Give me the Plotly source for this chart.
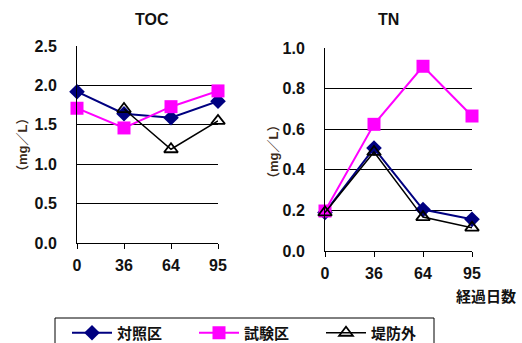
import plotly.graph_objects as go

days = ["0", "36", "64", "95"]
series_names = ["対照区", "試験区", "堤防外"]

toc_control = [1.92, 1.64, 1.59, 1.80]
toc_test = [1.71, 1.46, 1.73, 1.93]
toc_outside = [None, 1.70, 1.19, 1.55]

tn_control = [0.19, 0.507, 0.204, 0.156]
tn_test = [0.197, 0.624, 0.91, 0.665]
tn_outside = [0.19, 0.488, 0.167, 0.115]

toc_ticks = [0.0, 0.5, 1.0, 1.5, 2.0, 2.5]
tn_ticks = [0.0, 0.2, 0.4, 0.6, 0.8, 1.0]

W, H = 522, 343
FONT = "Liberation Sans, Arial, Noto Sans CJK JP, sans-serif"

styles = [
    dict(line=dict(color="#000080", width=2),
         marker=dict(symbol="diamond", size=12, color="#000080")),
    dict(line=dict(color="#FF00FF", width=2),
         marker=dict(symbol="square", size=13, color="#FF00FF")),
    dict(line=dict(color="#000000", width=1.5),
         marker=dict(symbol="triangle-up-open", size=12, color="#000000",
                     line=dict(width=1.8, color="#000000"))),
]

fig = go.Figure()
for i, (name, vals) in enumerate(zip(series_names, [toc_control, toc_test, toc_outside])):
    fig.add_trace(go.Scatter(x=days, y=vals, name=name, mode="lines+markers",
                             xaxis="x", yaxis="y", cliponaxis=False,
                             legendgroup=name, showlegend=True, **styles[i]))
for i, (name, vals) in enumerate(zip(series_names, [tn_control, tn_test, tn_outside])):
    fig.add_trace(go.Scatter(x=days, y=vals, name=name, mode="lines+markers",
                             xaxis="x2", yaxis="y2", cliponaxis=False,
                             legendgroup=name, showlegend=False, **styles[i]))

def px_x(p):
    return p / W

def px_y(p):
    return 1 - p / H

tickfont = dict(family=FONT, size=16, color="#111111", weight="bold")

xcommon = dict(type="category", range=[0, 3], showline=True, linecolor="black",
               linewidth=1, ticks="outside", ticklen=5, tickcolor="black",
               showgrid=False, tickfont=tickfont, ticklabelstandoff=3,
               zeroline=False, fixedrange=True, automargin=False)
ycommon = dict(showline=True, linecolor="black", linewidth=1, ticks="",
               showgrid=True, gridcolor="black", gridwidth=1, tickfont=tickfont,
               ticklabelstandoff=16, zeroline=False, fixedrange=True, automargin=False)

fig.update_layout(
    width=W, height=H,
    margin=dict(l=0, r=0, t=0, b=0, autoexpand=False),
    paper_bgcolor="white", plot_bgcolor="white",
    font=dict(family=FONT, color="#111111"),
    xaxis=dict(domain=[px_x(77), px_x(218)], anchor="y", **xcommon),
    yaxis=dict(domain=[px_y(243), px_y(46)], anchor="x", range=[0, 2.5],
               tickvals=toc_ticks, ticktext=[f"{v:.1f}" for v in toc_ticks], **ycommon),
    xaxis2=dict(domain=[px_x(325), px_x(472)], anchor="y2", **xcommon),
    yaxis2=dict(domain=[px_y(251), px_y(48)], anchor="x2", range=[0, 1.0],
                tickvals=tn_ticks, ticktext=[f"{v:.1f}" for v in tn_ticks], **ycommon),
    showlegend=True,
    hovermode=False,
    legend=dict(orientation="h", x=px_x(67), y=px_y(316.5), xanchor="left", yanchor="top",
                borderwidth=0, bgcolor="rgba(0,0,0,0)",
                font=dict(family=FONT, size=15, color="#111111", weight="bold"),
                entrywidth=72, entrywidthmode="pixels", itemwidth=40,
                tracegroupgap=0),
)

# legend frame (bottom runs off the picture, as in the reference)
fig.add_shape(type="rect", xref="paper", yref="paper",
              x0=px_x(55), x1=px_x(434), y0=px_y(352), y1=px_y(318),
              line=dict(color="black", width=1), fillcolor="rgba(0,0,0,0)", layer="above")

annots = [
    dict(text="TOC", x=px_x(152), y=px_y(20), size=16),
    dict(text="TN", x=px_x(388), y=px_y(20), size=16),
    dict(text="経過日数", x=px_x(486), y=px_y(296), size=15),
]
for a in annots:
    fig.add_annotation(text=a["text"], x=a["x"], y=a["y"], xref="paper", yref="paper",
                       showarrow=False, xanchor="center", yanchor="middle",
                       font=dict(family=FONT, size=a["size"], color="#111111", weight="bold"))
for xp, yp in [(22, 145), (273, 152)]:
    fig.add_annotation(text="（mg／L）", x=px_x(xp), y=px_y(yp), xref="paper", yref="paper",
                       showarrow=False, textangle=-90, xanchor="center", yanchor="middle",
                       font=dict(family=FONT, size=13, color="#3a2a1a", weight="bold"))

fig.write_html("out.html", config={"displayModeBar": False, "staticPlot": True},
               post_script="document.body.style.margin='0';")
